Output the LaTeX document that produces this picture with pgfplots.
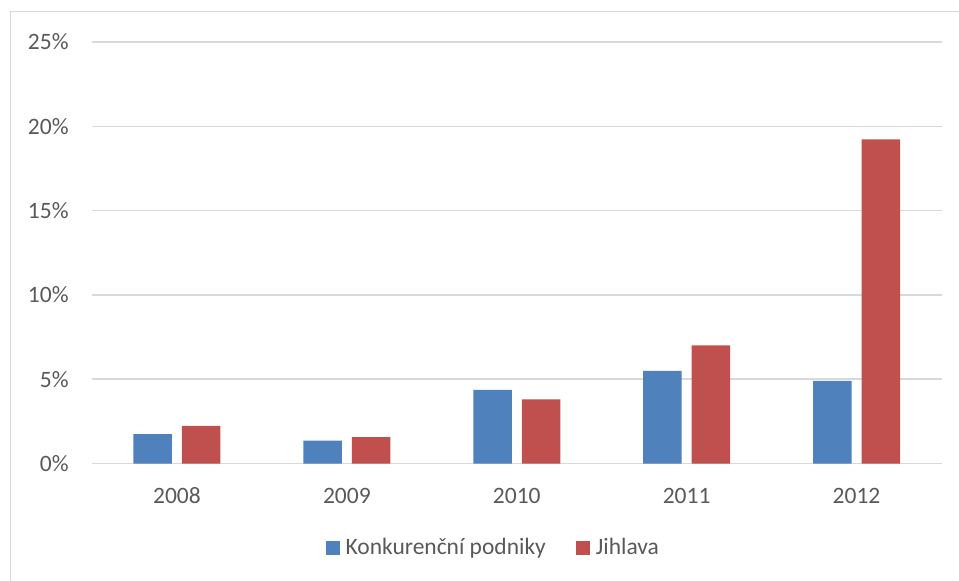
\documentclass[border=0pt]{standalone}
\usepackage{fontspec}
\setmainfont{Carlito}
\usepackage{pgfplots}
\pgfplotsset{compat=1.18}
\definecolor{cblue}{HTML}{4F81BD}
\definecolor{cred}{HTML}{C0504D}
\definecolor{gridc}{HTML}{D9D9D9}
\definecolor{txt}{HTML}{595959}
\begin{document}
\begin{tikzpicture}
\begin{axis}[
  at={(46bp,-231.75bp)}, anchor=south west,
  scale only axis, width=424.75bp, height=210.75bp,
  ybar=5bp, bar width=19.25bp,
  xmin=-0.5, xmax=4.5, ymin=0, ymax=25,
  xtick={0,1,2,3,4}, xticklabels={2008,2009,2010,2011,2012},
  ytick={0,5,10,15,20,25},
  yticklabel={\pgfmathprintnumber{\tick}\%},
  /pgf/number format/assume math mode=true,
  axis line style={draw=none},
  major tick length=0pt,
  ymajorgrids, grid style={gridc, line width=0.75bp},
  tick label style={font=\fontsize{11.75bp}{14bp}\selectfont, text=txt},
  yticklabel style={anchor=east, inner sep=0pt, xshift=-11.5bp},
  xticklabel style={anchor=base, inner sep=0pt, yshift=-20bp},
  legend columns=2,
  legend style={draw=none, fill=none, inner sep=0pt,
    at={(axis description cs:0.2745,-0.2005)}, anchor=west,
    font=\fontsize{11.75bp}{14bp}\selectfont, text=txt,
    nodes={inner sep=1.5bp},
    /tikz/every odd column/.append style={column sep=1.5bp},
    /tikz/every even column/.append style={column sep=13.5bp}},
  legend image code/.code={\fill[#1] (0bp,-3.5bp) rectangle (7bp,3.5bp);},
]
\addplot[fill=cblue, draw=none] coordinates {(0,1.74) (1,1.36) (2,4.37) (3,5.50) (4,4.90)};
\addplot[fill=cred, draw=none] coordinates {(0,2.23) (1,1.56) (2,3.81) (3,7.00) (4,19.23)};
\legend{Konkurenční podniky, Jihlava}
\end{axis}
\draw[gridc, line width=0.75bp] (5.25bp,-290.5bp) -- (5.25bp,-5.75bp) -- (479.5bp,-5.75bp);
\pgfresetboundingbox
\path[use as bounding box] (0bp,0bp) rectangle (479.5bp,-290.5bp);
\end{tikzpicture}
\end{document}
